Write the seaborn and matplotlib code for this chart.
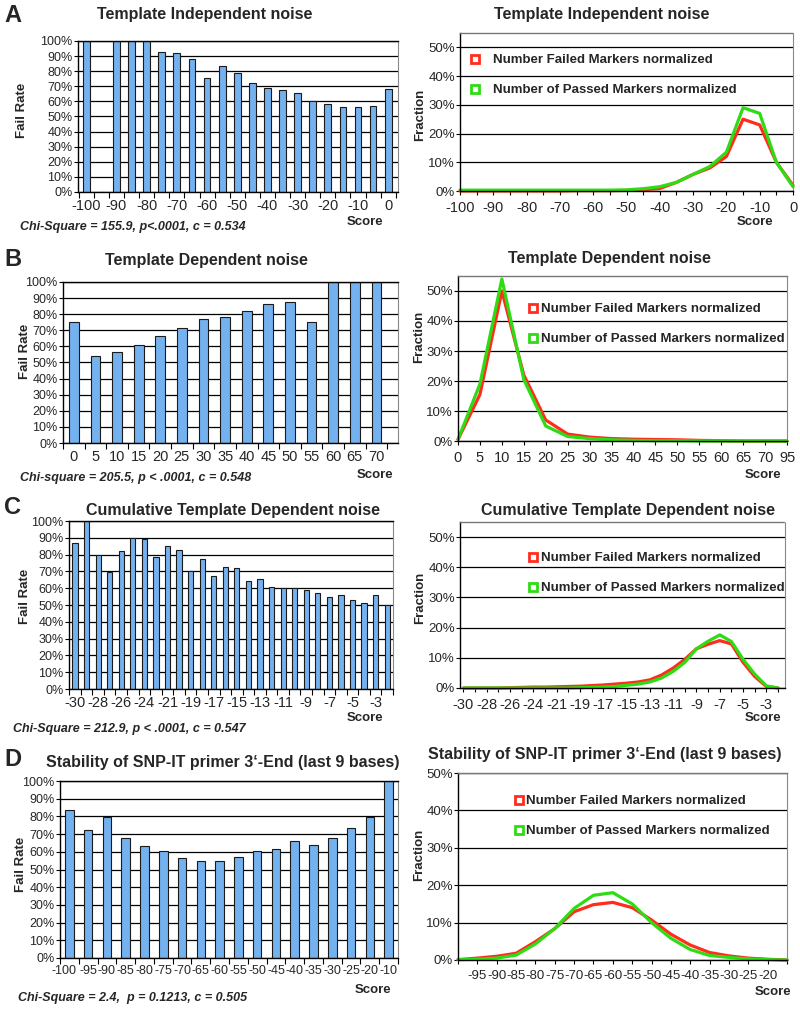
import numpy as np
import matplotlib.pyplot as plt
import matplotlib.transforms as mtransforms
import seaborn as sns
from matplotlib.lines import Line2D

sns.set_theme(style="white")
plt.rcParams['font.family'] = ['Liberation Sans', 'DejaVu Sans']

# ---- data ----
# A: template independent noise
a_scores = [str(s) for s in range(-100, 1, 5)]
a_fail = [100, 0, 100, 100, 100, 93, 92, 88, 75.5, 83.5, 79, 72.5, 69, 67.5, 65.5, 60.5, 58, 56, 56, 57, 68]
a_failed_norm = [0, 0, 0, 0, 0, 0, 0, 0.1, 0.1, 0.1, 0.2, 0.4, 0.9, 3, 5.8, 8, 12, 25, 23, 10, 2]
a_passed_norm = [0.3, 0.3, 0.3, 0.3, 0.3, 0.3, 0.3, 0.3, 0.3, 0.3, 0.4, 0.8, 1.5, 3, 5.8, 8.5, 13.5, 29, 27, 10, 1.5]

# B: template dependent noise
b_bar_scores = [str(s) for s in range(0, 71, 5)]
b_fail = [75, 54, 56.5, 61, 66.5, 71.5, 77, 78.5, 82, 86.5, 87.5, 75, 100, 100, 100]
b_line_scores = [str(s) for s in range(0, 71, 5)] + ['95']
b_failed_norm = [0.5, 15.5, 50, 22, 7, 2.3, 1.3, 0.8, 0.6, 0.5, 0.4, 0.2, 0.1, 0, 0, 0]
b_passed_norm = [0.5, 19, 54, 20.5, 5, 1.5, 0.8, 0.4, 0.2, 0.1, 0.1, 0, 0, 0, 0, 0]

# C: cumulative template dependent noise
c_scores = ['-30', '-29', '-28', '-27', '-26', '-25', '-24', '-23', '-21', '-20', '-19', '-18', '-17', '-16',
            '-15', '-14', '-13', '-12', '-11', '-10', '-9', '-8', '-7', '-6', '-5', '-4', '-3', '-2']
c_fail = [87, 100, 80, 69.5, 82, 90, 89, 78.5, 85, 83, 70.5, 77.5, 67.5, 72.5,
          72, 64.5, 65.5, 60.5, 60, 60, 59, 57, 55, 56, 53, 51, 56, 50]
c_failed_norm = [0, 0, 0, 0, 0.1, 0.2, 0.3, 0.3, 0.4, 0.5, 0.6, 0.8, 1, 1.3,
                 1.6, 2, 2.7, 4.3, 6.6, 9.5, 13, 14.5, 15.7, 14.6, 8.5, 3.8, 0.5, 0]
c_passed_norm = [0, 0, 0, 0, 0, 0, 0, 0, 0, 0, 0.1, 0.2, 0.3, 0.5,
                 0.9, 1.3, 2, 3.3, 5.5, 8.5, 13, 15.5, 17.6, 15.4, 9.5, 4.6, 0.7, 0]

# D: stability of SNP-IT primer 3'-end
d_scores = [str(s) for s in range(-100, -19, 5)] + ['-10']
d_fail = [83.5, 72.5, 79.5, 68, 63.5, 60.5, 56.5, 55, 55, 57, 60.5, 61.5, 66, 64, 68, 73.5, 79.5, 100]
d_failed_norm = [0.1, 0.5, 1, 1.8, 4.9, 8.4, 12.9, 14.8, 15.4, 14, 10.7, 6.9, 4, 2, 1.1, 0.5, 0.2, 0]
d_passed_norm = [0.1, 0.2, 0.5, 1.3, 4.3, 8.4, 13.8, 17.3, 18, 15, 10, 5.8, 2.8, 1.2, 0.7, 0.3, 0.1, 0]

BAR = '#74b1ef'
RED = '#ff2d1c'
GREEN = '#2edc14'

W, H = 800, 1010
fig = plt.figure(figsize=(8, 10.1), dpi=100)


def box(l, t, r, b):
    return fig.add_axes([l / W, 1 - b / H, (r - l) / W, (b - t) / H])


def ftext(x, y, s, **kw):
    fig.text(x / W, 1 - y / H, s, **kw)


def bar_panel(ax, cats, vals, step, xlim, xfs=10.5):
    sns.barplot(x=cats, y=vals, ax=ax, color=BAR, saturation=1, edgecolor='#1a1a1a',
                linewidth=0.8, width=0.45)
    n = len(cats)
    ax.set_xlim(*xlim)
    ax.set_ylim(0, 100)
    ax.set_yticks(range(0, 101, 10))
    ax.set_yticklabels([f"{v}%" for v in range(0, 101, 10)], fontsize=9)
    ax.set_xticks(range(0, n, step))
    ax.set_xticklabels(cats[::step], fontsize=xfs)
    ax.set_xticks(np.arange(-0.5, n, 1), minor=True)
    ax.tick_params(axis='x', which='major', bottom=True, length=0, pad=5)
    ax.tick_params(axis='x', which='minor', bottom=True, length=4, width=0.8, color='black')
    ax.tick_params(axis='y', left=True, length=3, width=0.8, pad=1, color='black')
    ax.yaxis.grid(True, color='black', lw=0.9)
    ax.set_axisbelow(True)
    for s in ['left', 'bottom', 'top']:
        ax.spines[s].set(color='black', lw=1)
    ax.spines['right'].set(color='#888888', lw=0.8)
    ax.set_xlabel('')
    ax.set_ylabel('')


def line_panel(ax, cats, failed, passed, labels_at, xlim, ytop, leg):
    x = np.arange(len(cats))
    sns.lineplot(x=x, y=failed, ax=ax, color=RED, lw=2.3, clip_on=False)
    sns.lineplot(x=x, y=passed, ax=ax, color=GREEN, lw=2.3, clip_on=False)
    ax.set_xlim(*xlim)
    ax.set_ylim(0, ytop)
    ax.set_yticks(range(0, 51, 10))
    ax.set_yticklabels([f"{v}%" for v in range(0, 51, 10)], fontsize=9.5)
    ax.set_xticks(labels_at)
    ax.set_xticklabels([cats[i] for i in labels_at], fontsize=10.5)
    ax.set_xticks(x, minor=True)
    ax.tick_params(axis='x', which='both', bottom=True, length=3, width=0.8, color='black', pad=4)
    ax.tick_params(axis='y', left=True, length=3, width=0.8, pad=0.5, color='black')
    ax.yaxis.grid(True, color='black', lw=0.9)
    ax.set_axisbelow(True)
    ax.spines['left'].set(color='black', lw=1)
    ax.spines['bottom'].set(color='black', lw=1)
    ax.spines['top'].set(color='#777777', lw=1, linestyle=(0, (1, 1)))
    ax.spines['right'].set(color='#888888', lw=0.8, linestyle=(0, (1, 1)))
    ax.set_xlabel('')
    ax.set_ylabel('')
    mx, my, tx = leg
    fs = 9.5
    em = fs * 100 / 72
    handles = [Line2D([], [], ls='', marker='s', ms=6, mfc='white', mec=RED, mew=2),
               Line2D([], [], ls='', marker='s', ms=6, mfc='white', mec=GREEN, mew=2)]
    ax.legend(handles, ['Number Failed Markers normalized', 'Number of Passed Markers normalized'],
              loc='upper left', bbox_to_anchor=((mx - 0.4 * em) / W, 1 - (my - 0.6 * em) / H),
              bbox_transform=fig.transFigure, frameon=False, borderpad=0, borderaxespad=0,
              handlelength=0.8, handletextpad=max((tx - mx - 0.4 * em) / em, 0.1),
              labelspacing=1.35, prop={'size': fs, 'weight': 'bold'})


def side_labels(ylab, yx, yy, sx, sy):
    ftext(yx, yy, ylab, rotation=90, ha='center', va='center', fontsize=9.5, fontweight='bold')
    ftext(sx, sy, 'Score', ha='center', va='center', fontsize=9.5, fontweight='bold')


title_kw = dict(ha='center', va='center', fontsize=11.5, fontweight='bold')
letter_kw = dict(ha='left', va='center', fontsize=17, fontweight='bold')
chi_kw = dict(ha='left', va='center', fontsize=9, fontweight='bold', style='italic')

# ---- A ----
ax = box(78, 41, 398, 192)
bar_panel(ax, a_scores, a_fail, 2, (-0.55, 20.65))
ax = box(460, 33, 793, 191)
line_panel(ax, a_scores, a_failed_norm, a_passed_norm, list(range(0, 21, 2)), (0, 20), 55, (475, 62, 493))
ftext(4, 15, 'A', **letter_kw)
ftext(205, 15, 'Template Independent noise', **title_kw)
ftext(602, 15, 'Template Independent noise', **title_kw)
side_labels('Fail Rate', 22, 110, 365, 222)
side_labels('Fraction', 420, 115, 755, 222)
ftext(20, 227, 'Chi-Square = 155.9, p<.0001, c = 0.534', **chi_kw)

# ---- B ----
ax = box(63, 282, 398, 443)
bar_panel(ax, b_bar_scores, b_fail, 1, (-0.47, 15.0))
ax = box(458, 276, 787, 441)
line_panel(ax, b_line_scores, b_failed_norm, b_passed_norm, list(range(16)), (0, 15), 55, (533, 311, 541))
ftext(4, 259, 'B', **letter_kw)
ftext(206, 260, 'Template Dependent noise', **title_kw)
ftext(609, 258, 'Template Dependent noise', **title_kw)
side_labels('Fail Rate', 25, 351, 375, 475)
side_labels('Fraction', 419, 337, 763, 475)
ftext(20, 478, 'Chi-square = 205.5, p < .0001, c = 0.548', **chi_kw)

# ---- C ----
ax = box(69, 521, 393, 689)
bar_panel(ax, c_scores, c_fail, 2, (-0.52, 27.5))
ax = box(460, 522, 785, 688)
line_panel(ax, c_scores, c_failed_norm, c_passed_norm, list(range(0, 28, 2)), (-0.3, 27.6), 55, (533, 560, 541))
ftext(4, 507, 'C', **letter_kw)
ftext(233, 510, 'Cumulative Template Dependent noise', **title_kw)
ftext(628, 511, 'Cumulative Template Dependent noise', **title_kw)
side_labels('Fail Rate', 25, 596, 365, 718)
side_labels('Fraction', 420, 598, 763, 718)
ftext(13, 729, 'Chi-Square = 212.9, p < .0001, c = 0.547', **chi_kw)

# ---- D ----
ax = box(60, 781, 398, 958)
bar_panel(ax, d_scores, d_fail, 1, (-0.42, 17.5), xfs=9)
first = ax.get_xticklabels()[0]
first.set_transform(first.get_transform() + mtransforms.ScaledTranslation(-5 / 100, 0, fig.dpi_scale_trans))
ax = box(458, 773, 787, 960)
line_panel(ax, d_scores, d_failed_norm, d_passed_norm, list(range(1, 17)), (0, 17), 50, (519, 803, 526))
ax.tick_params(axis='x', which='major', labelsize=9.5)
ftext(4, 760, 'D', **letter_kw)
ftext(223, 763, 'Stability of SNP-IT primer 3\u2018-End (last 9 bases)', **title_kw)
ftext(605, 755, 'Stability of SNP-IT primer 3\u2018-End (last 9 bases)', **title_kw)
side_labels('Fail Rate', 21, 864, 373, 990)
side_labels('Fraction', 419, 855, 773, 992)
ftext(18, 998, 'Chi-Square = 2.4,  p = 0.1213, c = 0.505', **chi_kw)

fig.savefig('out.png', dpi=100, facecolor='white')
